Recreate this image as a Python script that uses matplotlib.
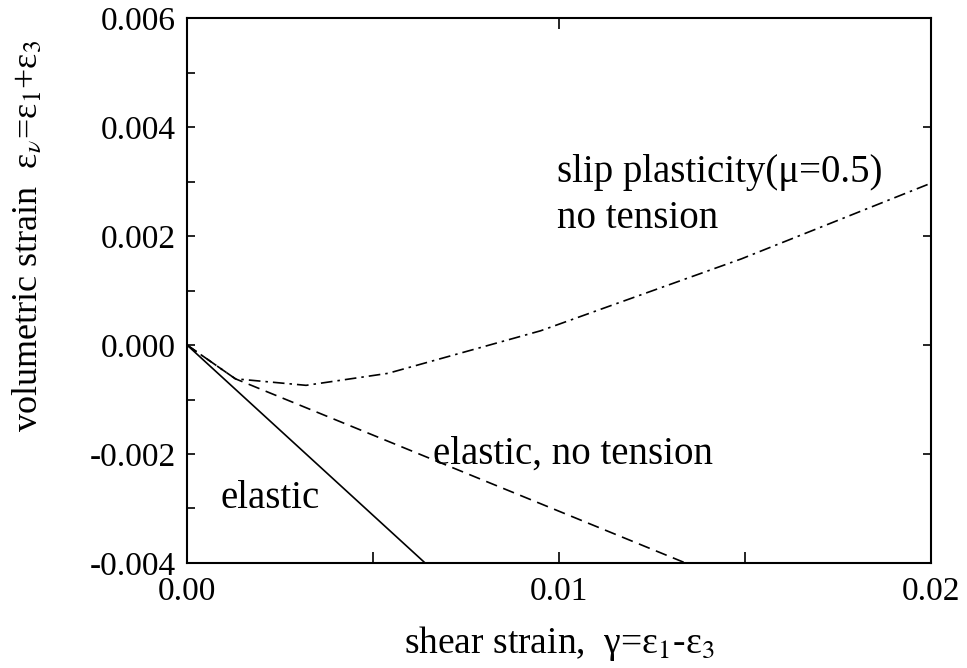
import matplotlib
matplotlib.use("Agg")
import matplotlib.pyplot as plt
from matplotlib.ticker import MultipleLocator, FixedFormatter, FixedLocator

# shear strain / volumetric strain paths
elastic_gamma = [0.0, 0.0064]
elastic_ev = [0.0, -0.0040]

notension_gamma = [0.0, 0.0013, 0.0134]
notension_ev = [0.0, -0.00062, -0.0040]

slip_gamma = [0.0, 0.0013, 0.0032, 0.0054, 0.0095, 0.0149, 0.0200]
slip_ev = [0.0, -0.00062, -0.00074, -0.00052, 0.00026, 0.00158, 0.00297]

x_ticks = [0.0, 0.01, 0.02]
x_ticklabels = ["0.00", "0.01", "0.02"]
y_ticks = [-0.004, -0.002, 0.0, 0.002, 0.004, 0.006]
y_ticklabels = ["-0.004", "-0.002", "0.000", "0.002", "0.004", "0.006"]

plt.rcParams["font.family"] = ["Liberation Serif", "DejaVu Serif"]
plt.rcParams["mathtext.fontset"] = "stix"

fig = plt.figure(figsize=(9.67, 6.68), dpi=100)
ax = fig.add_axes([0.1934, 0.1572, 0.7694, 0.8158])

ax.plot(elastic_gamma, elastic_ev, color="black", lw=1.2, solid_capstyle="butt")
ax.plot(notension_gamma, notension_ev, color="black", lw=1.2, dashes=(7, 4))
ax.plot(slip_gamma, slip_ev, color="black", lw=1.2, dashes=(7, 3, 1.5, 3))

ax.set_xlim(0.0, 0.02)
ax.set_ylim(-0.004, 0.006)

ax.xaxis.set_major_locator(FixedLocator(x_ticks))
ax.xaxis.set_major_formatter(FixedFormatter(x_ticklabels))
ax.xaxis.set_minor_locator(MultipleLocator(0.005))
ax.yaxis.set_major_locator(FixedLocator(y_ticks))
ax.yaxis.set_major_formatter(FixedFormatter(y_ticklabels))
ax.yaxis.set_minor_locator(MultipleLocator(0.001))

for s in ax.spines.values():
    s.set_linewidth(1.5)

ax.tick_params(which="both", direction="in", top=True, right=True,
               width=1.2, labelsize=24)
ax.tick_params(axis="x", which="major", length=8, pad=10)
ax.tick_params(axis="x", which="minor", length=8)
ax.tick_params(axis="x", which="minor", top=False)
ax.tick_params(axis="y", which="major", length=6, pad=8)
ax.tick_params(axis="y", which="minor", length=6, right=False)

ax.set_xlabel("shear strain,  γ=ε$_1$-ε$_3$", fontsize=27, labelpad=12)
ax.set_ylabel("volumetric strain  ε$_{\\nu}$=ε$_1$+ε$_3$", fontsize=26)
ax.yaxis.set_label_coords(-0.19, 0.60)

ax.text(0.00995, 0.00299, "slip plasticity(μ=0.5)", fontsize=28, va="baseline")
ax.text(0.00995, 0.00215, "no tension", fontsize=28, va="baseline")
ax.text(0.00661, -0.00217, "elastic, no tension", fontsize=28, va="baseline")
ax.text(0.00089, -0.00300, "elastic", fontsize=28, va="baseline")

fig.savefig("out.png", dpi=100)
